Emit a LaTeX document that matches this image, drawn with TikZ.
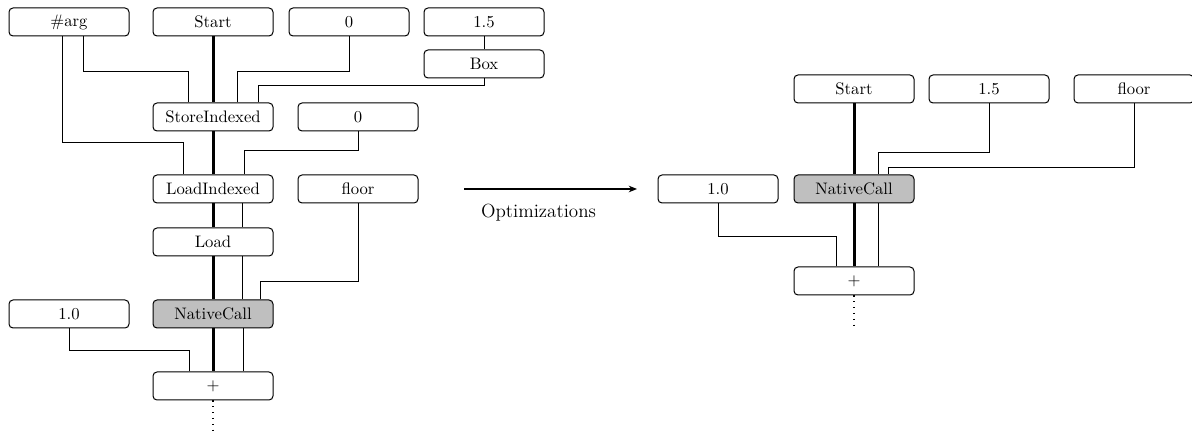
\documentclass[tikz,border=0pt]{standalone}
\usetikzlibrary{calc,arrows.meta}

\tikzset{
  op/.style={draw, rounded corners=2.4pt, line width=0.6pt, minimum width=72pt,
             minimum height=16.8pt, inner sep=0pt, fill=white},
  opcall/.style={op, fill=black!25},
  ctrl/.style={line width=1.8pt},
  dataflow/.style={line width=0.6pt},
  cont/.style={line width=0.7pt, dash pattern=on 0.7pt off 2.8pt}
}

\begin{document}
\begin{tikzpicture}[x=0.6pt, y=-0.6pt, font=\fontsize{10}{12}\selectfont]
\useasboundingbox (0,0) rectangle (1192,433);

% ---------- graph before optimization ----------
\node[op] (arg)     at (69,22)  {\#arg};
\node[op] (start)   at (213,22) {Start};
\node[op] (zeroA)   at (349,22) {0};
\node[op] (onefive) at (484,22) {1.5};
\node[op] (box)     at (484,64) {Box};
\node[op] (store)   at (213,117) {StoreIndexed};
\node[op] (zeroB)   at (358,117) {0};
\node[op] (loadidx) at (213,189) {LoadIndexed};
\node[op] (floor)   at (358,189) {floor};
\node[op] (load)    at (213,242) {Load};
\node[op] (one)     at (69,314) {1.0};
\node[opcall] (native) at (213,314) {NativeCall};
\node[op] (plus)    at (213,386) {$+$};
\coordinate (more) at (213,433);

% control chain
\draw[ctrl] (start.south) -- (store.north);
\draw[ctrl] (store.south) -- (loadidx.north);
\draw[ctrl] (loadidx.south) -- (load.north);
\draw[ctrl] (load.south) -- (native.north);
\draw[ctrl] (native.south) -- (plus.north);
\draw[cont] (plus.south) -- (more);

% data edges
\draw[dataflow] (onefive.south) -- (box.north);
\draw[dataflow] ($(store.north)+(-25,0)$) -- ++(0,-31) -| ($(arg.south)+(14,0)$);
\draw[dataflow] ($(store.north)+(24,0)$) -- ++(0,-31) -| (zeroA.south);
\draw[dataflow] ($(store.north)+(45,0)$) -- ++(0,-17) -| (box.south);
\draw[dataflow] ($(loadidx.north)+(-30,0)$) -- ++(0,-32) -| ($(arg.south)+(-7,0)$);
\draw[dataflow] ($(loadidx.north)+(31,0)$) -- ++(0,-24) -| (zeroB.south);
\draw[dataflow] ($(loadidx.south)+(29,0)$) -- ($(load.north)+(29,0)$);
\draw[dataflow] ($(load.south)+(29,0)$) -- ($(native.north)+(29,0)$);
\draw[dataflow] ($(native.north)+(47,0)$) -- ++(0,-18) -| (floor.south);
\draw[dataflow] ($(native.south)+(30,0)$) -- ($(plus.north)+(30,0)$);
\draw[dataflow] ($(plus.north)+(-24,0)$) -- ++(0,-21) -| (one.south);

% ---------- transformation arrow ----------
\coordinate (optA) at (464,189);
\coordinate (optB) at (637,189);
\draw[line width=0.7pt, -{Stealth[length=5pt, width=4pt]}] (optA) -- (optB);
\node[font=\fontsize{11.4}{14}\selectfont] (optlabel) at (538.5,213) {Optimizations};

% ---------- graph after optimization ----------
\node[op] (start2)   at (854,89)  {Start};
\node[op] (onefive2) at (989,89)  {1.5};
\node[op] (floor2)   at (1134,89) {floor};
\node[op] (one2)     at (718,189) {1.0};
\node[opcall] (native2) at (854,189) {NativeCall};
\node[op] (plus2)    at (854,281) {$+$};
\coordinate (more2) at (854,330);

\draw[ctrl] (start2.south) -- (native2.north);
\draw[ctrl] (native2.south) -- (plus2.north);
\draw[cont] (plus2.south) -- (more2);

\draw[dataflow] ($(native2.north)+(24,0)$) -- ++(0,-22) -| (onefive2.south);
\draw[dataflow] ($(native2.north)+(34,0)$) -- ++(0,-7) -| (floor2.south);
\draw[dataflow] ($(native2.south)+(24,0)$) -- ($(plus2.north)+(24,0)$);
\draw[dataflow] ($(plus2.north)+(-18,0)$) -- ++(0,-30) -| (one2.south);
\end{tikzpicture}
\end{document}
